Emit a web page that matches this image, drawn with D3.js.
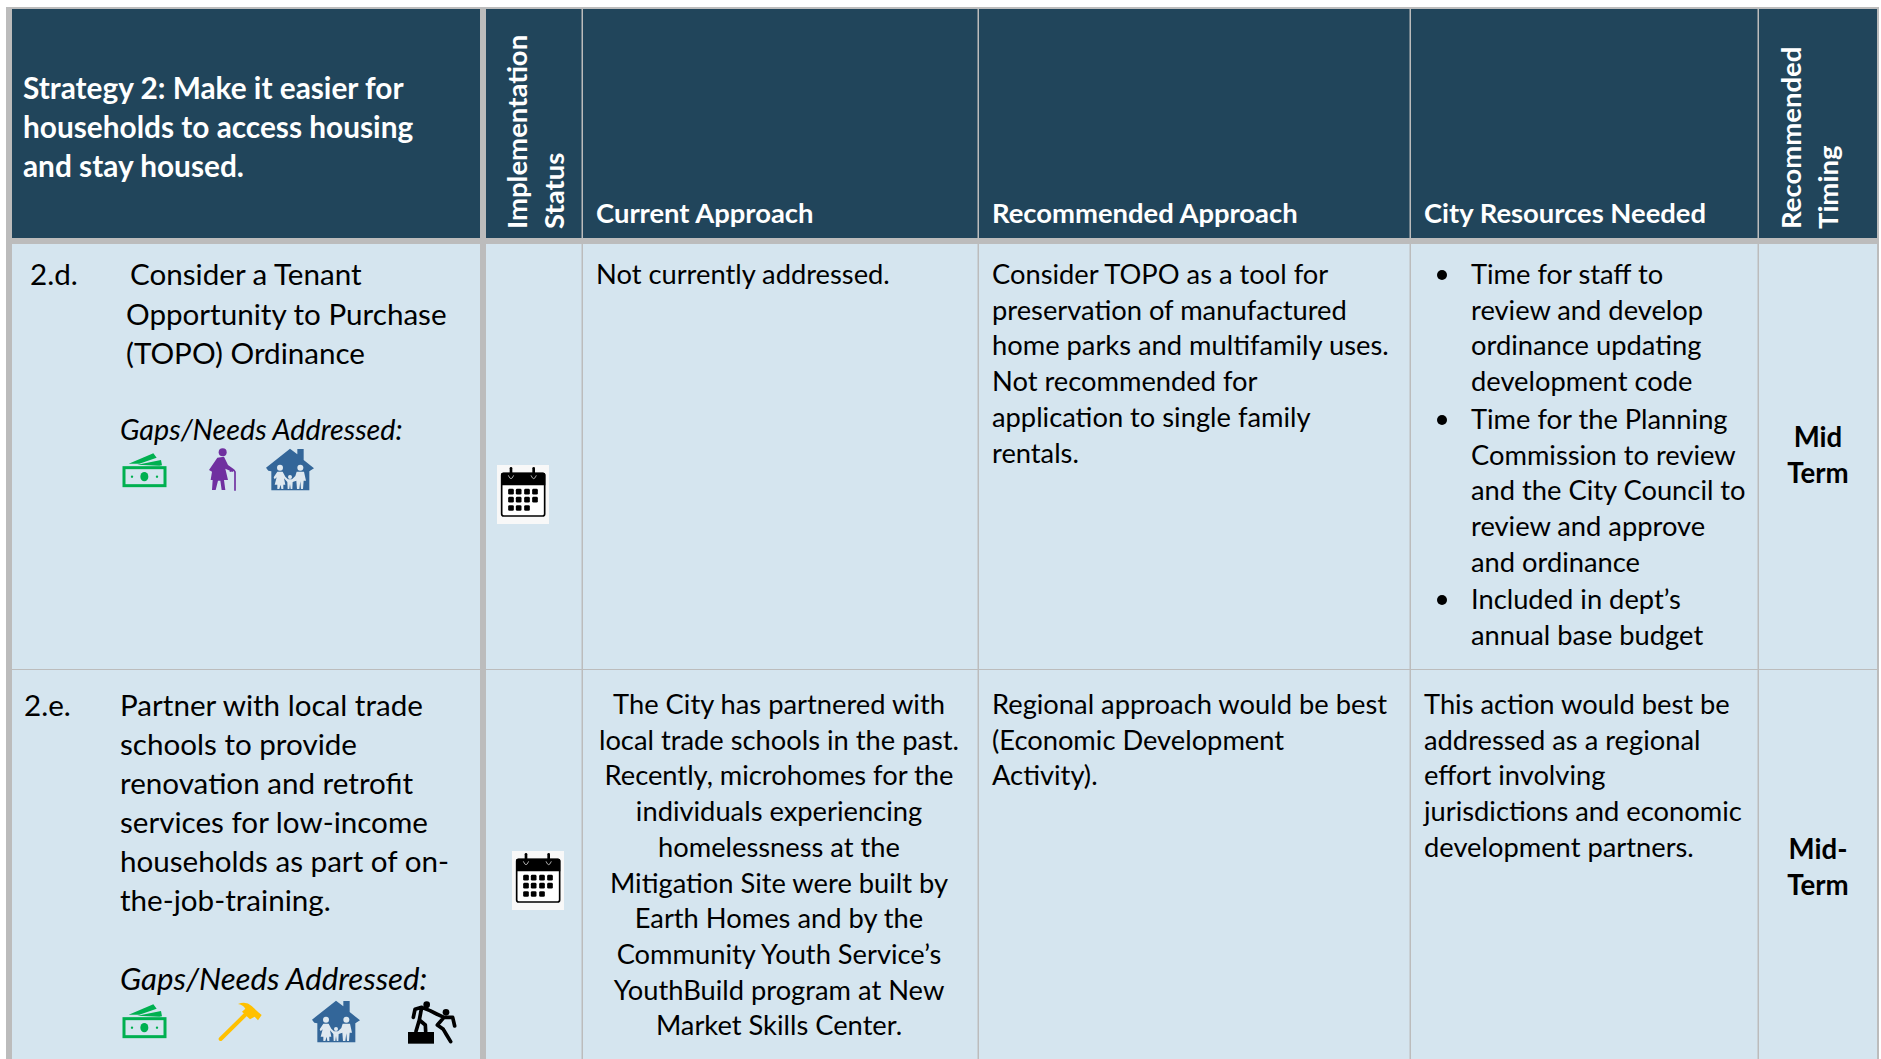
<!DOCTYPE html>
<html><head><meta charset="utf-8">
<script src="https://cdn.jsdelivr.net/npm/d3@7"></script>
<style>html,body{margin:0;padding:0;background:#fff;overflow:hidden}svg{display:block}text{font-family:Lato,Carlito,sans-serif;white-space:pre}</style>
</head><body><svg id="c" width="1881" height="1059"></svg>
<script>
const headerStrategy = ["Strategy 2: Make it easier for","households to access housing","and stay housed."];
const headerImplementation = ["Implementation","Status"];
const headerTiming = ["Recommended","Timing"];
const headerColumns = ["Current Approach","Recommended Approach","City Resources Needed"];
const actionD = ["Consider a Tenant","Opportunity to Purchase","(TOPO) Ordinance"];
const actionE = ["Partner with local trade","schools to provide","renovation and retrofit","services for low-income","households as part of on-","the-job-training."];
const gapsLabel = "Gaps/Needs Addressed:";
const currentD = ["Not currently addressed."];
const currentE = ["The City has partnered with","local trade schools in the past.","Recently, microhomes for the","individuals experiencing","homelessness at the","Mitigation Site were built by","Earth Homes and by the","Community Youth Service’s","YouthBuild program at New","Market Skills Center."];
const recommendedD = ["Consider TOPO as a tool for","preservation of manufactured","home parks and multifamily uses.","Not recommended for","application to single family","rentals."];
const recommendedE = ["Regional approach would be best","(Economic Development","Activity)."];
const resourcesD = [["Time for staff to","review and develop","ordinance updating","development code"],["Time for the Planning","Commission to review","and the City Council to","review and approve","and ordinance"],["Included in dept’s","annual base budget"]];
const resourcesE = ["This action would best be","addressed as a regional","effort involving","jurisdictions and economic","development partners."];
const timing = [["Mid","Term"],["Mid-","Term"]];
const iconsD = ["money","senior","family"];
const iconsE = ["money","hammer","family","climb"];

const svg = d3.select("#c");
const GRAY="#bcbcbc", NAVY="#21455b", PALE="#d5e5ef";

// columns
const edges=[12,486,583,979,1411,1759,1877];
const rowY=[9,244,670,1059];
svg.append("rect").attr("x",6).attr("y",7).attr("width",1873).attr("height",1052).attr("fill",GRAY);
const cols=d3.pairs(edges);
const colW=(d,i)=>(i==0?d[1]-6:(i==edges.length-2?d[1]:d[1]-1.5))-d[0];
svg.append("g").selectAll("rect").data(cols).join("rect").attr("x",d=>d[0]).attr("width",colW).attr("y",rowY[0]).attr("height",229).attr("fill",NAVY);
[[rowY[1],rowY[2]-1],[rowY[2],rowY[3]]].forEach(r=>{
  svg.append("g").selectAll("rect").data(cols).join("rect").attr("x",d=>d[0]).attr("width",colW).attr("y",r[0]).attr("height",r[1]-r[0]).attr("fill",PALE);
});

const lines=(arr,x,y0,lh,o={})=>{
  const g=svg.append("g");
  g.selectAll("text").data(arr).join("text").text(d=>d)
   .attr("x",x).attr("y",(d,i)=>y0+i*lh)
   .attr("text-anchor",o.anchor||"start").attr("font-size",o.size||27.3)
   .attr("font-weight",o.bold?700:400).attr("font-style",o.italic?"italic":"normal")
   .attr("fill",o.fill||"#000");
  return g;
};
const WH="#fff";
lines(headerStrategy,23,99,39,{size:29.8,bold:true,fill:WH});
headerColumns.forEach((t,i)=>lines([t],[596,992,1424][i],223,0,{size:27.4,bold:true,fill:WH}));
const vert=(arr,xs,y)=>arr.forEach((t,i)=>svg.append("text").text(t).attr("transform",`translate(${xs[i]},${y}) rotate(-90)`).attr("font-size",27.5).attr("font-weight",700).attr("fill",WH));
vert(headerImplementation,[527,564],229);
vert(headerTiming,[1801,1838],229);

// row 1
const LEFT=29.6;
lines(["2.d."],30,285,39,{size:LEFT});
lines(actionD.slice(0,1),130,285,39,{size:LEFT});
lines(actionD.slice(1),126,325,39,{size:LEFT});
lines([gapsLabel],120,440,39,{size:28.7,italic:true});
lines(currentD,596,284,35.7);
lines(recommendedD,992,284,35.7);
const bul=[284,429,609];
resourcesD.forEach((b,i)=>{lines(b,1471,bul[i],35.7);
  svg.append("circle").attr("cx",1442).attr("cy",bul[i]-9).attr("r",5).attr("fill","#000");});
lines(timing[0],1818,447,36,{bold:true,anchor:"middle",size:27.6});

// row 2
lines(["2.e."],24,716,39,{size:LEFT});
lines(actionE,120,716,39,{size:LEFT});
lines([gapsLabel],120,990,39,{size:31.2,italic:true});
lines(currentE,779,714,35.7,{anchor:"middle"});
lines(recommendedE,992,714,35.7);
lines(resourcesE,1424,714,35.7);
lines(timing[1],1818,859,36,{bold:true,anchor:"middle",size:27.6});

// icons, drawn in 3x reference crop units
const draw={
 money(g){
  g.append("rect").attr("x",72).attr("y",143).attr("width",123).attr("height",54).attr("fill","none").attr("stroke","#00b050").attr("stroke-width",9);
  g.append("ellipse").attr("cx",133).attr("cy",170).attr("rx",12).attr("ry",14).attr("fill","#00b050");
  [96,171].forEach(x=>g.append("circle").attr("cx",x).attr("cy",170).attr("r",3.5).attr("fill","#00b050"));
  g.append("path").attr("fill","#00b050").attr("d","M86 131L160 100L170 113L118 131ZM112 134L183 120L186 136L178 137Z");
 },
 senior(g){
  const c="#7030a0";
  g.append("circle").attr("cx",368).attr("cy",97).attr("r",12).attr("fill",c);
  g.append("path").attr("fill",c).attr("d","M352 113L372 110L384 135L402 148L398 156L376 146L384 180L372 180L376 210L365 210L361 182L354 182L347 210L336 210L338 180L332 180L336 155L327 150Z");
  g.append("path").attr("fill","none").attr("stroke",c).attr("stroke-width",5).attr("d","M390 155Q394 148 402 151L405 156L405 212");
 },
 family(g){
  const c="#336699";
  g.append("path").attr("fill",c).attr("d","M498 143L570 86L592 103L592 87L611 87L611 120L642 145L628 154L628 211L514 211L514 154L505 152Z");
  const w="#dfe9f0";
  [[540,143],[601,143],[570,171]].forEach((p,i)=>g.append("circle").attr("cx",p[0]).attr("cy",p[1]).attr("r",i==2?6:9).attr("fill",w));
  g.append("path").attr("fill",w).attr("d","M532 155L548 155L556 170L564 178L576 178L586 168L590 155L612 155L618 182L611 182L609 207L603 207L601 184L598 207L591 207L589 182L578 186L577 207L572 207L570 192L568 207L563 207L562 186L552 175L556 194L550 194L550 207L544 207L542 194L538 207L532 207L532 194L524 194L530 172L524 178L521 172Z");
 },
 hammer(g){
  const c="#ffc000";
  g.append("path").attr("fill","none").attr("stroke",c).attr("stroke-width",12).attr("stroke-linecap","round").attr("d","M362 237L435 165");
  g.append("path").attr("fill",c).attr("d","M414 132Q438 122 455 138L475 157L485 165L474 181L464 170L450 178L426 155L436 146Q428 134 414 132Z");
 },
 climb(g){
  const k="#000";
  g.append("rect").attr("x",924).attr("y",216).attr("width",78).attr("height",35).attr("fill",k);
  [[980,134],[1038,157]].forEach(p=>g.append("circle").attr("cx",p[0]).attr("cy",p[1]).attr("r",10).attr("fill",k));
  g.append("path").attr("fill","none").attr("stroke",k).attr("stroke-width",11).attr("stroke-linejoin","round").attr("stroke-linecap","round")
   .attr("d","M940 172L945 148L965 142L958 180L948 214M958 180L976 195L977 214M965 142L990 152L1010 162M1032 172L1012 195L1030 208L1040 225L1052 245M1010 162L1032 172L1058 172L1064 198");
 }
};
const place=(name,dx,dy)=>{const g=svg.append("g").attr("class","icon-"+name).attr("transform",`translate(${dx},${dy}) scale(${1/3})`);draw[name](g);};
iconsD.forEach(n=>place(n,100,420));
iconsE.forEach(n=>{
  if(n=="family") place(n,146,972);
  else if(n=="money") place(n,100,971);
  else place(n,100,960);
});

// calendars
const calendar=(dx,dy)=>{
 const g=svg.append("g").attr("transform",`translate(${dx},${dy}) scale(${1/3})`);
 g.append("rect").attr("x",1191).attr("y",135).attr("width",156).attr("height",177).attr("fill","#f8f8f8");
 g.append("rect").attr("x",1205).attr("y",160).attr("width",129).attr("height",128).attr("rx",6).attr("fill","#fff").attr("stroke","#000").attr("stroke-width",5);
 g.append("path").attr("d","M1203 164Q1203 158 1209 158H1330Q1336 158 1336 164V196H1203Z").attr("fill","#000");
 [1233,1301].forEach(x=>{g.append("path").attr("d",`M${x} 145V170`).attr("stroke","#000").attr("stroke-width",8).attr("stroke-linecap","round");
  g.append("path").attr("d",`M${x-8} 166Q${x} 186 ${x+8} 166`).attr("fill","none").attr("stroke","#fff").attr("stroke-width",2);});
 d3.cross([215,239,264],[1233,1256,1281,1305]).filter(d=>!(d[0]==264&&d[1]==1305)).forEach(d=>
  g.append("rect").attr("x",d[1]-8.5).attr("y",d[0]-8.5).attr("width",17).attr("height",17).attr("rx",4).attr("fill","#000"));
};
calendar(100,420);
calendar(115,806);
</script></body></html>
